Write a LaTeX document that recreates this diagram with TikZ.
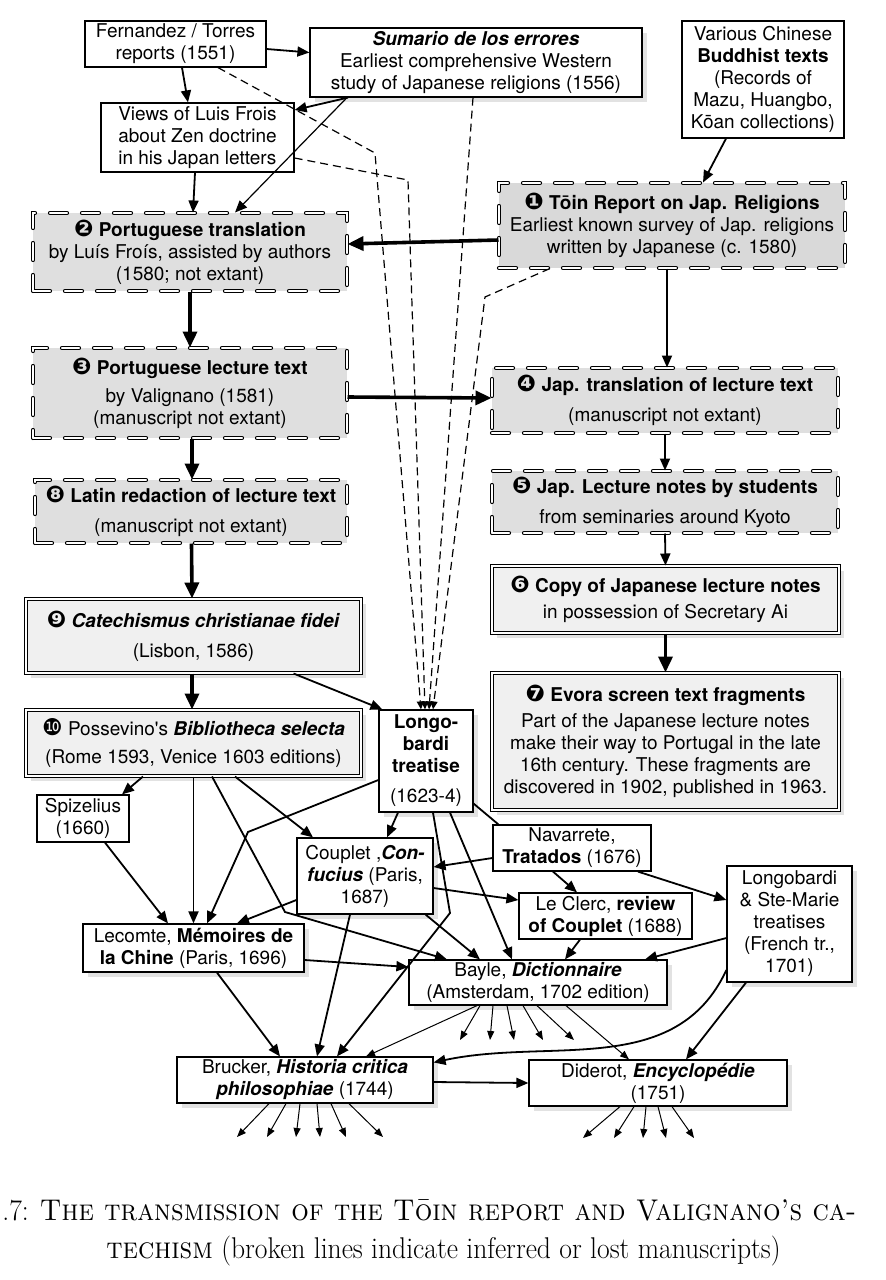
\documentclass[tikz,border=0pt]{standalone}
\usepackage{graphicx}
\usepackage{fontspec}
\newfontfamily\helv{TeX Gyre Heros}
\newfontfamily\dingfont{DejaVu Sans}
\usetikzlibrary{arrows.meta,shadows}
\newcommand{\dingnr}[1]{{\dingfont\fontsize{11.5}{11}\selectfont #1}}

\begin{document}
\begin{tikzpicture}[x=0.5pt,y=-0.5pt,
    every node/.style={font=\helv\fontsize{9.5}{11}\selectfont, align=center, inner sep=1pt},
    dim/.style 2 args={minimum width=#1*0.5pt, minimum height=#2*0.5pt},
    shade/.style={drop shadow={shadow xshift=2.5pt, shadow yshift=-2.5pt, fill=gray!45}},
    plain/.style={draw, line width=0.6pt, fill=white},
    plainshade/.style={plain, shade},
    kept/.style={draw, double, double distance=1.2pt, line width=0.5pt, fill=gray!12, shade},
    lost/.style={draw, double, double distance=1.1pt, line width=0.5pt, line cap=round, dash pattern=on 8.5pt off 7.5pt, fill=gray!25},
    link/.style={-{Triangle[length=6pt,width=5pt]}, line width=0.9pt},
    heavy/.style={-{Triangle[length=8pt,width=7pt]}, line width=1.8pt},
    faint/.style={-{Triangle[length=4.5pt,width=3.5pt]}, line width=0.5pt},
    guess/.style={-{Triangle[length=4pt,width=3.5pt]}, line width=0.6pt, dash pattern=on 4pt off 2.5pt}
]
\useasboundingbox (0,0) rectangle (885,1280);

\node[plain, dim={181}{46}] (fern) at (175.5,44) {Fernandez / Torres\\reports (1551)};
\node[plainshade, dim={332}{69}] (sumario) at (476,62.5) {\textbf{\textit{Sumario de los errores}}\\Earliest comprehensive Western\\study of Japanese religions (1556)};
\node[plain, dim={193}{69}, align=left] (frois) at (197.5,137.5) {Views of Luis Frois\\about Zen doctrine\\in his Japan letters};
\node[plain, dim={162}{117}] (buddhist) at (763,79.5) {Various Chinese\\\textbf{Buddhist texts}\\(Records of\\Mazu, Huangbo,\\Kōan collections)};

\node[lost, dim={346}{85}, fill=gray!30] (toin) at (672,225.5) {\textbf{\dingnr{❶} Tōin Report on Jap. Religions}\\Earliest known survey of Jap. religions\\written by Japanese (c. 1580)};
\node[lost, dim={314}{78}] (port) at (190,252) {\textbf{\dingnr{❷} Portuguese translation}\\by Luís Froís, assisted by authors\\(1580; not extant)};
\node[lost, dim={314}{90}] (lect) at (190,393) {\textbf{\dingnr{❸} Portuguese lecture text}\\[3pt]by Valignano (1581)\\(manuscript not extant)};
\node[lost, dim={346}{65}] (japtr) at (665,400.5) {\textbf{\dingnr{❹} Jap. translation of lecture text}\\[4pt](manuscript not extant)};
\node[lost, dim={312}{63}] (latin) at (191,511.5) {\textbf{\dingnr{❽} Latin redaction of lecture text}\\[4pt](manuscript not extant)};
\node[lost, dim={346}{62}] (notes) at (665,502) {\textbf{\dingnr{❺} Jap. Lecture notes by students}\\[4pt]from seminaries around Kyoto};

\node[kept, dim={347}{67}] (copy) at (665.5,599.5) {\textbf{\dingnr{❻} Copy of Japanese lecture notes}\\[2pt]in possession of Secretary Ai};
\node[kept, dim={335}{74}] (cat) at (193.5,636) {\textbf{\dingnr{❾} \textit{Catechismus christianae fidei}}\\[4pt](Lisbon, 1586)};
\node[kept, dim={335}{66}] (poss) at (193.5,743) {\dingnr{❿} Possevino's \textbf{\textit{Bibliotheca selecta}}\\[3pt](Rome 1593, Venice 1603 editions)};
\node[kept, dim={347}{137}] (evora) at (665.5,741.5) {\textbf{\dingnr{❼} Evora screen text fragments}\\[2pt]Part of the Japanese lecture notes\\make their way to Portugal in the late\\16th century. These fragments are\\discovered in 1902, published in 1963.};
\node[plainshade, dim={94}{102}] (longo) at (426,761) {\textbf{Longo-}\\\textbf{bardi}\\\textbf{treatise}\\[4pt](1623-4)};

\node[plain, dim={92}{47}] (spiz) at (83,818.5) {Spizelius\\(1660)};
\node[plainshade, dim={136}{76}] (couplet) at (365,876) {Couplet ,\textbf{\textit{Con-}}\\\textbf{\textit{fucius}} (Paris,\\1687)};
\node[plain, dim={158}{46}] (navarrete) at (572,848) {Navarrete,\\\textbf{Tratados} (1676)};
\node[plain, dim={173}{46}] (leclerc) at (605.5,916) {Le Clerc, \textbf{review}\\\textbf{of Couplet} (1688)};
\node[plainshade, dim={125}{116}] (longste) at (789.5,924) {Longobardi\\\& Ste-Marie\\treatises\\(French tr.,\\1701)};
\node[plainshade, dim={221}{48}] (lecomte) at (193.5,948) {Lecomte, \textbf{Mémoires de}\\\textbf{la Chine} (Paris, 1696)};
\node[plainshade, dim={258}{45}] (bayle) at (538,982.5) {Bayle, \textbf{\textit{Dictionnaire}}\\(Amsterdam, 1702 edition)};
\node[plainshade, dim={256}{46}] (brucker) at (305,1080) {Brucker, \textbf{\textit{Historia critica}}\\\textbf{\textit{philosophiae}} (1744)};
\node[plainshade, dim={258}{46}] (diderot) at (658,1083) {Diderot, \textbf{\textit{Encyclopédie}}\\(1751)};

\coordinate (fernbend) at (375,153);
\coordinate (froisbend) at (408,180);
\coordinate (toinbend) at (485,297);
\coordinate (possbend) at (285,912);
\coordinate (longobend) at (248,832);
\coordinate (treatisebend) at (450,913);

\draw[link] ([yshift=-2.5pt]fern.east) -- ([yshift=5pt]sumario.west);
\draw[link] ([xshift=3.25pt]fern.south) -- ([xshift=-4.75pt]frois.north);
\draw[link] ([xshift=-64pt]sumario.south) -- ([yshift=13.75pt]frois.east);
\draw[link, line width=0.6pt] ([xshift=-64.5pt]sumario.south) -- ([xshift=22.5pt]port.north);
\draw[link] ([xshift=-1.25pt]frois.south) -- ([xshift=1.5pt]port.north);
\draw[link] ([xshift=-18.5pt]buddhist.south) -- ([xshift=15.5pt]toin.north);
\draw[heavy] ([yshift=-7.25pt]toin.west) -- ([yshift=4pt]port.east);
\draw[link] ([xshift=-2.5pt]toin.south) -- ([xshift=1pt]japtr.north);
\draw[heavy] (port.south) -- (lect.north);
\draw[heavy] ([yshift=-2pt]lect.east) -- ([yshift=1.25pt]japtr.west);
\draw[heavy] ([xshift=1pt]lect.south) -- ([xshift=0.5pt]latin.north);
\draw[link] (japtr.south) -- (notes.north);
\draw[link] (notes.south) -- (copy.north);
\draw[heavy] ([xshift=0.25pt]latin.south) -- ([xshift=-0.75pt]cat.north);
\draw[heavy] (copy.south) -- (evora.north);
\draw[heavy] ([xshift=-0.75pt]cat.south) -- ([xshift=-0.75pt]poss.north);
\draw[link] ([xshift=50pt]cat.south) -- ([xshift=2pt]longo.north west);

\draw[guess] ([xshift=21.25pt]fern.south) -- (fernbend) -- ([xshift=-2.5pt]longo.north);
\draw[guess] ([yshift=-10.25pt]frois.east) -- (froisbend) -- ([xshift=-0.5pt]longo.north);
\draw[guess] ([xshift=-1.5pt]sumario.south) -- ([xshift=1.5pt]longo.north);
\draw[guess] ([xshift=-61pt]toin.south) -- (toinbend) -- ([xshift=3.5pt]longo.north);

\draw[link] ([xshift=-25.25pt]poss.south) -- ([xshift=19.5pt]spiz.north);
\draw[link] (poss.south) -- (lecomte.north);
\draw[link] ([xshift=9.25pt]poss.south) -- (possbend) -- ([xshift=-45.5pt]bayle.north);
\draw[link] ([xshift=20.75pt]poss.south) -- ([xshift=-26pt]couplet.north);
\draw[link] ([yshift=-9.5pt]longo.west) -- (longobend) -- ([xshift=6.75pt]lecomte.north);
\draw[link] ([xshift=-14pt]longo.south) -- ([xshift=11pt]couplet.north);
\draw[link] ([xshift=11pt]spiz.south) -- ([xshift=-12.75pt]lecomte.north);
\draw[link] ([yshift=-12pt]couplet.west) -- ([xshift=21.75pt]lecomte.north);
\draw[link] ([yshift=-6pt]couplet.east) -- ([yshift=8pt]leclerc.west);
\draw[link] ([yshift=-5pt]navarrete.west) -- ([yshift=4.5pt]couplet.east);
\draw[link] ([xshift=-9.5pt]navarrete.south) -- ([xshift=-14.25pt]leclerc.north);
\draw[link] ([xshift=33pt]navarrete.south) -- ([yshift=12pt]longste.west);
\draw[line width=0.9pt] ([yshift=4.5pt]longo.south east) -- ([xshift=3pt]navarrete.north west);
\draw[link] ([xshift=12pt]longo.south) -- ([xshift=-13pt]bayle.north);
\draw[link] ([xshift=3.5pt]longo.south) -- (treatisebend) -- ([xshift=16pt]brucker.north);
\draw[link] ([xshift=-4pt]couplet.south east) -- ([xshift=-29pt]bayle.north);
\draw[link] ([xshift=-7.5pt]couplet.south) -- ([xshift=6pt]brucker.north);
\draw[link] ([xshift=-12.75pt]leclerc.south) -- ([xshift=13.5pt]bayle.north);
\draw[link] ([yshift=-7pt]longste.west) -- ([xshift=53.5pt]bayle.north);
\draw[link] ([yshift=-23pt]longste.west) to[out=-115,in=12] ([yshift=-3pt]brucker.north east);
\draw[link] ([xshift=-21.75pt]longste.south) -- ([xshift=14pt]diderot.north);
\draw[link] ([yshift=-6pt]lecomte.east) -- ([yshift=7.75pt]bayle.west);
\draw[link] ([xshift=11.75pt]lecomte.south) -- ([xshift=-12.5pt]brucker.north);
\draw[faint] ([xshift=-30.5pt]bayle.south) -- ([xshift=30.5pt]brucker.north);
\draw[faint] ([xshift=14pt]bayle.south) -- ([xshift=-14.5pt]diderot.north);
\draw[link] ([yshift=-1pt]brucker.east) -- (diderot.west);

\foreach \from/\to [count=\i] in {480/460, 493/490, 507/514, 523/543, 537/574} {
    \coordinate (baylefan\i) at (\to,1040);
    \draw[faint] ([xshift=(\from-538)*0.5pt]bayle.south) -- (baylefan\i);
}
\foreach \from/\to [count=\i] in {269/237, 286/267, 300/296, 317/320, 331/346, 349/383} {
    \coordinate (bruckerfan\i) at (\to,1137);
    \draw[faint] ([xshift=(\from-305)*0.5pt]brucker.south) -- (bruckerfan\i);
}
\foreach \from/\to [count=\i] in {620/583, 634/614, 646/643, 658/666, 672/694} {
    \coordinate (diderotfan\i) at (\to,1138);
    \draw[faint] ([xshift=(\from-658)*0.5pt]diderot.south) -- (diderotfan\i);
}

\node[anchor=base west, inner sep=0, font=\rmfamily\fontsize{15}{21}\selectfont] (capone) at (2,1220) {\scalebox{0.92}[1]{.7: \textsc{The transmission of the Tōin report and Valignano’s ca-}}};
\node[anchor=base west, inner sep=0, font=\rmfamily\fontsize{15}{21}\selectfont] (captwo) at (106,1258) {\scalebox{0.92}[1]{\textsc{techism} (broken lines indicate inferred or lost manuscripts)}};
\end{tikzpicture}
\end{document}
